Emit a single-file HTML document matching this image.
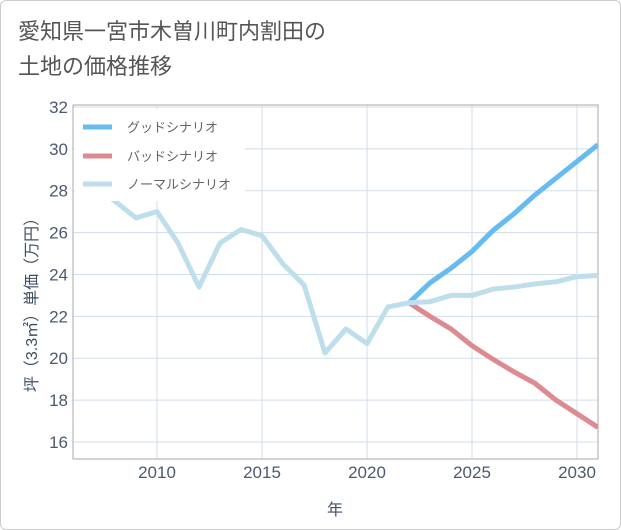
<!DOCTYPE html>
<html><head><meta charset="utf-8"><style>
body{margin:0;background:#fff;}
#card{position:relative;width:619px;height:528px;border:1px solid #ccc;border-radius:6px;background:#fff;font-family:"Liberation Sans","Noto Sans CJK JP",sans-serif;overflow:hidden}
#title{position:absolute;left:17px;top:13px;font-size:22px;line-height:35px;color:#555;}
svg{position:absolute;left:0;top:0}
</style></head><body>
<div id="card">
<div id="title">愛知県一宮市木曽川町内割田の<br>土地の価格推移</div>
<svg id="chart" width="621" height="530"></svg>
</div>
<script>
const years=[2007,2008,2009,2010,2011,2012,2013,2014,2015,2016,2017,2018,2019,2020,2021,2022,2023,2024,2025,2026,2027,2028,2029,2030,2031];
const normal=[28.2,27.5,26.7,27.0,25.5,23.4,25.5,26.15,25.85,24.5,23.5,20.25,21.4,20.7,22.45,22.65,22.7,23.0,23.0,23.3,23.4,23.55,23.65,23.9,23.95];
const fYears=[2022,2023,2024,2025,2026,2027,2028,2029,2030,2031];
const good=[22.65,23.6,24.3,25.1,26.1,26.9,27.8,28.6,29.4,30.2];
const bad=[22.65,22.0,21.4,20.6,19.95,19.35,18.8,18.0,17.35,16.7];
const xTicks=[2010,2015,2020,2025,2030];
const yTicks=[16,18,20,22,24,26,28,30,32];
const L=72,R=597,T=104,B=458;
const x=v=>156+(v-2010)*21;
const y=v=>441-(v-16)*20.94;
const svg=document.getElementById('chart');
const NS='http://www.w3.org/2000/svg';
function mk(t,a){const e=document.createElementNS(NS,t);for(const k in a)e.setAttribute(k,a[k]);svg.appendChild(e);return e;}
xTicks.forEach(v=>{const g=mk('line',{x1:x(v),x2:x(v),y1:T,y2:B,stroke:'#d3dde8','stroke-width':1});


const t=mk('text',{x:x(v),y:477,'text-anchor':'middle','font-size':17,fill:'#4a5a70'});t.textContent=v;

});
yTicks.forEach(v=>{const g=mk('line',{x1:L,x2:R,y1:y(v),y2:y(v),stroke:'#d3dde8','stroke-width':1});


const t=mk('text',{x:67,y:y(v)+6,'text-anchor':'end','font-size':17,fill:'#4a5a70'});t.textContent=v;

});
const fr=mk('rect',{x:L,y:T,width:R-L,height:B-T,fill:'none',stroke:'#aaa','stroke-width':1});


const clip=mk('clipPath',{id:'cp'});const cr=document.createElementNS(NS,'rect');
cr.setAttribute('x',L);cr.setAttribute('y',T);cr.setAttribute('width',R-L);cr.setAttribute('height',B-T);clip.appendChild(cr);
function line(xs,vs,col,name){const p=mk('polyline',{points:xs.map((v,i)=>x(v)+','+y(vs[i])).join(' '),fill:'none',stroke:col,'stroke-width':5,'stroke-linejoin':'round','clip-path':'url(#cp)'});

}
line(fYears,bad,'#dd8a90','bad-scenario-line');
line(fYears,good,'#66bbf0','good-scenario-line');
line(years,normal,'#bfdeec','normal-scenario-line');
const lg=mk('rect',{x:74,y:108,width:170,height:92,fill:'#fff'});


[['グッドシナリオ','#66bbf0',126],['バッドシナリオ','#dd8a90',155],['ノーマルシナリオ','#bfdeec',183]].forEach(([n,c,yy])=>{
const s=mk('line',{x1:82,x2:111,y1:yy,y2:yy,stroke:c,'stroke-width':5});


const t=mk('text',{x:126,y:yy+5,'font-size':13,fill:'#666'});t.textContent=n;

});
const xt=mk('text',{x:334,y:514,'text-anchor':'middle','font-size':16,fill:'#3f4f66'});xt.textContent='年';


const yt=mk('text',{x:0,y:0,'text-anchor':'middle','font-size':16,fill:'#3f4f66',transform:'translate(36,300) rotate(-90)'});yt.textContent='坪（3.3㎡）単価（万円）';


</script>
</body></html>
